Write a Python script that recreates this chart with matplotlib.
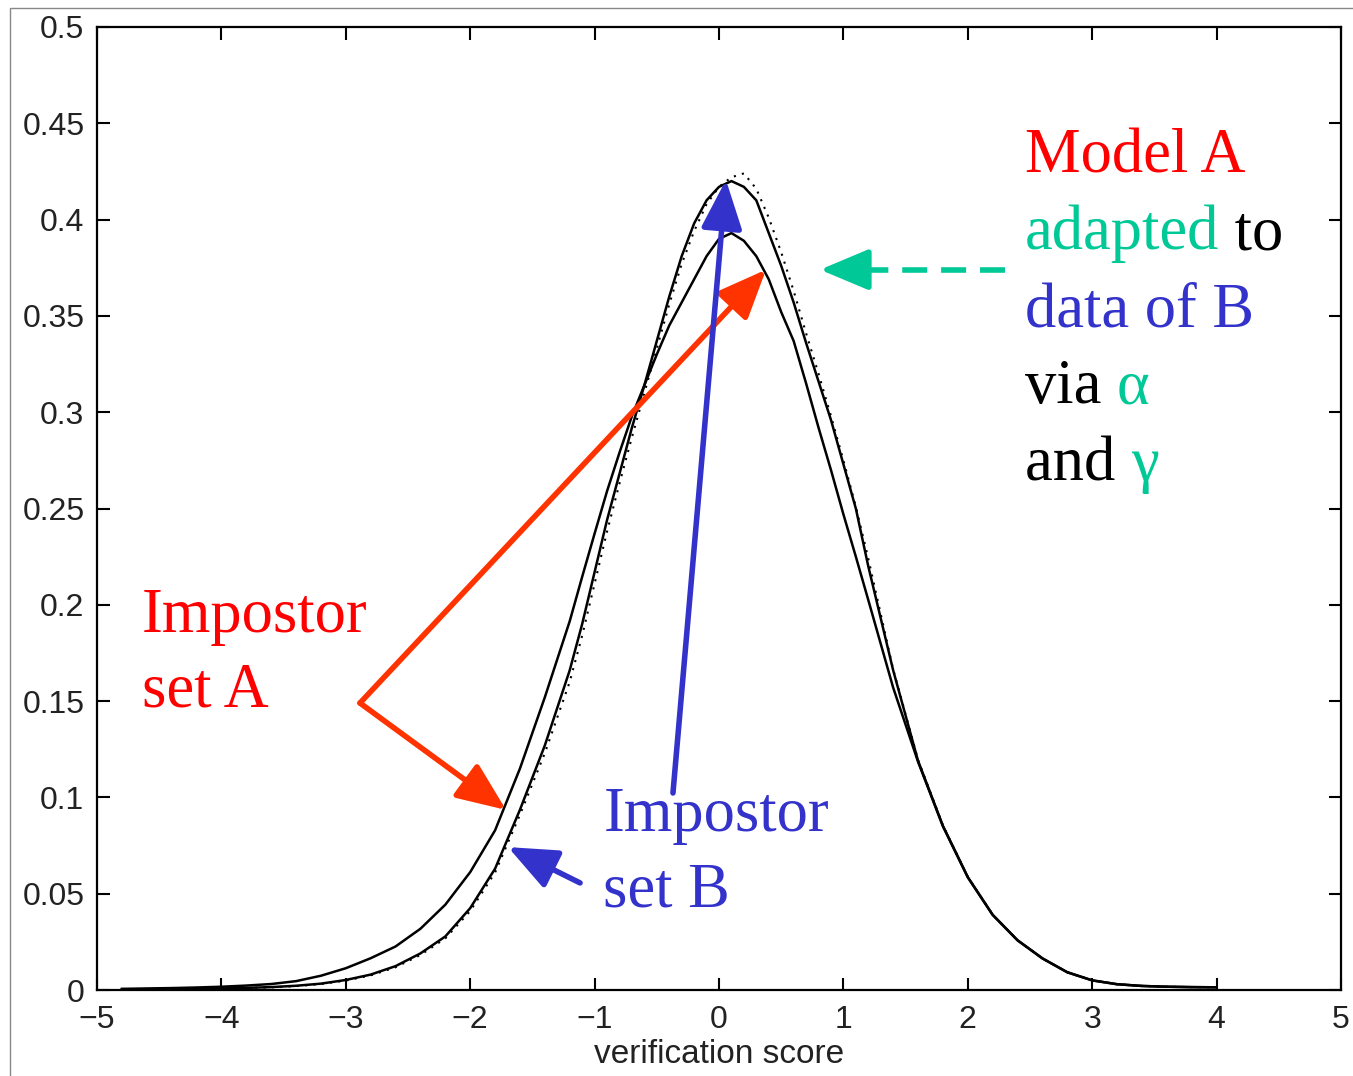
import matplotlib
matplotlib.use("Agg")
import matplotlib.pyplot as plt
from matplotlib.patches import Rectangle

# ---------------- data ----------------
score = [-4.8, -4.6, -4.4, -4.2, -4.0, -3.8, -3.6, -3.4, -3.2, -3.0,
         -2.8, -2.6, -2.4, -2.2, -2.0, -1.8, -1.6, -1.4,
         -1.2, -1.1, -1.0, -0.9, -0.8, -0.7, -0.6, -0.5, -0.4, -0.3, -0.2, -0.1,
         0.0, 0.1, 0.2, 0.3, 0.4, 0.5, 0.6, 0.7, 0.8, 0.9, 1.0, 1.1, 1.2,
         1.4, 1.6, 1.8, 2.0, 2.2, 2.4, 2.6, 2.8, 3.0, 3.2, 3.4, 3.6, 3.8, 4.0]

impostor_a = [0.0006, 0.0008, 0.0010, 0.0013, 0.0017, 0.0023, 0.0031, 0.0046, 0.0074, 0.0113,
              0.0165, 0.0226, 0.0318, 0.0443, 0.0612, 0.0829, 0.1150, 0.1520,
              0.1915, 0.2145, 0.2370, 0.2590, 0.2790, 0.2980, 0.3140, 0.3300, 0.3450, 0.3570,
              0.3690, 0.3810,
              0.3900, 0.3930, 0.3890, 0.3810, 0.3690, 0.3520, 0.3370, 0.3150, 0.2920, 0.2700,
              0.2470, 0.2250, 0.2025,
              0.1570, 0.1185, 0.0850, 0.0585, 0.0390, 0.0258, 0.0164, 0.0092, 0.0050,
              0.0030, 0.0021, 0.0017, 0.0015, 0.0014]

impostor_b = [0.0003, 0.0004, 0.0005, 0.0006, 0.0008, 0.0011, 0.0015, 0.0022, 0.0033, 0.0052,
              0.0080, 0.0124, 0.0190, 0.0278, 0.0425, 0.0630, 0.0936, 0.1270,
              0.1660, 0.1900, 0.2170, 0.2440, 0.2680, 0.2920, 0.3140, 0.3370, 0.3600, 0.3810,
              0.3980, 0.4100,
              0.4170, 0.4200, 0.4170, 0.4100, 0.3930, 0.3760, 0.3570, 0.3360, 0.3160, 0.2960,
              0.2730, 0.2500, 0.2200,
              0.1660, 0.1190, 0.0852, 0.0586, 0.0390, 0.0258, 0.0164, 0.0092, 0.0050,
              0.0030, 0.0021, 0.0017, 0.0015, 0.0014]

model_a_adapted = [0.0003, 0.0004, 0.0005, 0.0006, 0.0008, 0.0010, 0.0014, 0.0020, 0.0031, 0.0049,
                   0.0076, 0.0118, 0.0182, 0.0268, 0.0410, 0.0610, 0.0910, 0.1230,
                   0.1600, 0.1840, 0.2110, 0.2380, 0.2630, 0.2870, 0.3100, 0.3330, 0.3560, 0.3770,
                   0.3940, 0.4080,
                   0.4170, 0.4220, 0.4240, 0.4160, 0.4010, 0.3830, 0.3630, 0.3410, 0.3200, 0.2980,
                   0.2750, 0.2510, 0.2240,
                   0.1665, 0.1195, 0.0855, 0.0588, 0.0391, 0.0258, 0.0164, 0.0092, 0.0050,
                   0.0030, 0.0021, 0.0017, 0.0015, 0.0014]

xticks = [-5, -4, -3, -2, -1, 0, 1, 2, 3, 4, 5]
xtick_labels = ["\u22125", "\u22124", "\u22123", "\u22122", "\u22121", "0", "1", "2", "3", "4", "5"]
yticks = [0, 0.05, 0.1, 0.15, 0.2, 0.25, 0.3, 0.35, 0.4, 0.45, 0.5]
ytick_labels = ["0", "0.05", "0.1", "0.15", "0.2", "0.25", "0.3", "0.35", "0.4", "0.45", "0.5"]
xlabel = "verification score"

RED = "#FF0000"
ARROW_RED = "#FF3300"
BLUE = "#3333CC"
GREEN = "#00C896"

# ---------------- figure ----------------
W, H = 1353, 1076
fig = plt.figure(figsize=(W / 100, H / 100), dpi=100)
fig.patch.set_facecolor("white")

# thin outer frame (left and top visible)
fig.patches.append(Rectangle((10 / W, -0.5), 2.0, 0.5 + 1 - 8 / H, transform=fig.transFigure,
                             fill=False, edgecolor="#888888", lw=1.0))

ax = fig.add_axes([97 / W, 1 - 990 / H, (1341 - 97) / W, (990 - 27) / H])
ax.set_xlim(-5, 5)
ax.set_ylim(0, 0.5)

lw_curve = 1.8
ax.plot(score, impostor_a, color="black", lw=lw_curve)
ax.plot(score, impostor_b, color="black", lw=lw_curve)
ax.plot(score, model_a_adapted, color="black", lw=1.5, linestyle=(0, (1, 3)))

for s in ax.spines.values():
    s.set_linewidth(1.6)
ax.set_xticks(xticks)
ax.set_xticklabels(xtick_labels)
ax.set_yticks(yticks)
ax.set_yticklabels(ytick_labels)
ax.tick_params(direction="in", length=9, width=1.5, top=True, right=True,
               labelsize=23, labelcolor="#222222", pad=9)
ax.tick_params(axis="x", pad=11)
for lab in ax.get_xticklabels() + ax.get_yticklabels():
    lab.set_family("Liberation Sans")
ax.set_xlabel(xlabel, fontsize=24, family="Liberation Sans", color="#222222", labelpad=3)

# ---------------- annotations ----------------
serif = "Liberation Serif"
fs = 45

def arrow(x0, y0, x1, y1, color, lw=4.0, ls="-"):
    ax.annotate("", xy=(x1, y1), xytext=(x0, y0),
                arrowprops=dict(arrowstyle="-|>,head_length=1.0,head_width=0.42",
                                mutation_scale=30, lw=lw, color=color,
                                shrinkA=0, shrinkB=0, linestyle=ls))

# red arrows (Impostor set A)
arrow(-2.886, 0.149, -1.712, 0.0935, ARROW_RED)
arrow(-2.886, 0.149, 0.378, 0.374, ARROW_RED)
# blue arrows (Impostor set B)
arrow(-0.370, 0.1023, 0.056, 0.4206, BLUE)
arrow(-1.117, 0.0556, -1.696, 0.0742, BLUE)
# green dashed arrow
ax.plot([2.30, 1.10], [0.374, 0.374], color=GREEN, lw=4.0, linestyle=(0, (4.5, 2.5)),
        solid_capstyle="butt", dash_capstyle="butt")
arrow(1.12, 0.374, 0.812, 0.374, GREEN)

ax.text(-4.64, 0.1745, "Impostor\nset A", color=RED, fontsize=fs, family=serif,
        va="center", ha="left", linespacing=1.38)
ax.text(-0.93, 0.0707, "Impostor\nset B", color=BLUE, fontsize=fs, family=serif,
        va="center", ha="left", linespacing=1.38)

x0 = 2.46
b0 = 0.4247
step = 0.0400
baselines = [b0, b0 - step, b0 - 2 * step, b0 - 3 * step, b0 - 4 * step]

def line(y, first, first_color, second=None, second_color=None):
    t = ax.text(x0, y, first, color=first_color, fontsize=fs, family=serif, va="baseline")
    if second:
        ax.annotate(second, xy=(1, 0), xycoords=t, color=second_color, fontsize=fs,
                    family=serif, va="bottom", ha="left")

line(baselines[0], "Model A", RED)
line(baselines[1], "adapted", GREEN, " to", "black")
line(baselines[2], "data of B", BLUE)
line(baselines[3], "via ", "black", "\u03b1", GREEN)
line(baselines[4], "and ", "black", "\u03b3", GREEN)

fig.savefig("out.png", dpi=100, facecolor="white")
